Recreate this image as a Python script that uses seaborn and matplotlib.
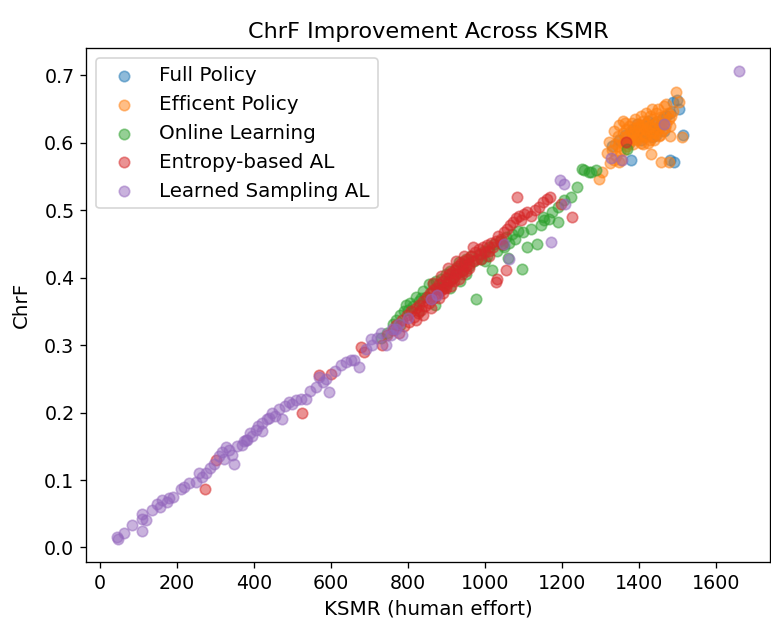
import matplotlib
matplotlib.use("Agg")
import matplotlib.pyplot as plt
import seaborn as sns

# ---- data ----
full_x = [1330, 1350, 1365, 1380, 1390, 1400, 1410, 1420, 1430, 1440,
          1450, 1460, 1470, 1480, 1490, 1500, 1505, 1515, 1492, 1482,
          1375, 1395, 1415, 1435, 1455, 1465, 1445, 1425, 1405, 1385]
full_y = [0.595, 0.605, 0.612, 0.575, 0.615, 0.620, 0.610, 0.625, 0.618, 0.630,
          0.622, 0.635, 0.640, 0.645, 0.660, 0.664, 0.650, 0.612, 0.572, 0.574,
          0.600, 0.628, 0.615, 0.608, 0.625, 0.618, 0.612, 0.632, 0.605, 0.620]

eff_x = [1322, 1330, 1338, 1345, 1350, 1352, 1358, 1360, 1365, 1368,
         1370, 1372, 1375, 1378, 1380, 1382, 1385, 1388, 1390, 1392,
         1395, 1398, 1400, 1402, 1405, 1408, 1410, 1412, 1415, 1418,
         1420, 1422, 1425, 1428, 1430, 1432, 1435, 1438, 1440, 1442,
         1445, 1448, 1450, 1452, 1455, 1458, 1460, 1462, 1465, 1468,
         1470, 1472, 1475, 1478, 1480, 1485, 1490, 1496, 1504, 1512,
         1304, 1296, 1348, 1431, 1457, 1478, 1340, 1355, 1362, 1335,
         1375, 1395, 1410, 1425, 1440, 1455, 1385, 1400, 1415, 1430,
         1445, 1365, 1390, 1420, 1450, 1480, 1345, 1405, 1435, 1465,
         1348, 1360, 1335, 1318, 1326]
eff_y = [0.602, 0.590, 0.598, 0.610, 0.603, 0.588, 0.615, 0.600, 0.608, 0.620,
         0.595, 0.612, 0.625, 0.605, 0.618, 0.630, 0.598, 0.612, 0.622, 0.606,
         0.615, 0.628, 0.610, 0.620, 0.600, 0.625, 0.615, 0.632, 0.608, 0.620,
         0.612, 0.630, 0.618, 0.605, 0.625, 0.615, 0.635, 0.610, 0.622, 0.628,
         0.615, 0.632, 0.620, 0.610, 0.638, 0.625, 0.618, 0.630, 0.640, 0.622,
         0.658, 0.628, 0.645, 0.635, 0.625, 0.640, 0.648, 0.675, 0.661, 0.609,
         0.557, 0.547, 0.572, 0.584, 0.572, 0.572, 0.580, 0.575, 0.590, 0.575,
         0.600, 0.605, 0.598, 0.600, 0.605, 0.612, 0.615, 0.625, 0.628, 0.640,
         0.645, 0.630, 0.635, 0.645, 0.650, 0.610, 0.595, 0.640, 0.650, 0.655,
         0.627, 0.632, 0.618, 0.585, 0.570]

online_x = [730, 745, 760, 770, 780, 790, 795, 800, 805, 812,
            820, 828, 835, 840, 848, 855, 860, 865, 872, 880,
            885, 890, 898, 905, 910, 918, 925, 932, 940, 945,
            952, 960, 965, 972, 977, 985, 990, 998, 1005, 1012,
            1018, 1025, 1032, 1040, 1048, 1055, 1062, 1070, 1078, 1085,
            1096, 1109, 1120, 1135, 1145, 1155, 1166, 1175, 1190, 1205,
            1223, 1239, 1252, 1270, 1257, 1275, 1369, 1288, 935, 1060,
            870, 910, 950, 1000, 1050, 1100, 1150, 830, 780, 1190]
online_y = [0.310, 0.318, 0.332, 0.338, 0.345, 0.350, 0.360, 0.352, 0.362, 0.358,
            0.372, 0.365, 0.370, 0.380, 0.372, 0.391, 0.378, 0.390, 0.395, 0.385,
            0.398, 0.388, 0.405, 0.395, 0.410, 0.400, 0.415, 0.423, 0.410, 0.420,
            0.428, 0.418, 0.432, 0.425, 0.368, 0.435, 0.428, 0.440, 0.432, 0.445,
            0.412, 0.450, 0.440, 0.455, 0.448, 0.460, 0.452, 0.465, 0.458, 0.470,
            0.413, 0.446, 0.472, 0.450, 0.478, 0.485, 0.487, 0.498, 0.505, 0.515,
            0.520, 0.535, 0.562, 0.557, 0.560, 0.557, 0.591, 0.560, 0.395, 0.430,
            0.360, 0.385, 0.405, 0.425, 0.445, 0.468, 0.490, 0.350, 0.330, 0.482]

entropy_x = [273, 301, 525, 569, 600, 678, 686, 732, 745, 760,
             770, 778, 785, 790, 798, 802, 808, 815, 820, 825,
             830, 835, 840, 845, 850, 855, 858, 862, 866, 870,
             874, 878, 882, 886, 890, 894, 898, 902, 906, 910,
             914, 918, 922, 926, 930, 934, 938, 942, 946, 950,
             955, 960, 965, 970, 975, 980, 985, 990, 995, 1000,
             1005, 1010, 1015, 1020, 1028, 1035, 1042, 1050, 1058, 1065,
             1072, 1080, 1088, 1095, 1102, 1110, 1120, 1130, 1140, 1150,
             1161, 1170, 1197, 1226, 1029, 1055, 1031, 1083, 1368, 880,
             900, 920, 940, 960, 860, 840, 820, 990, 1010, 1045,
             865, 885, 905, 925, 945, 968, 892, 912, 932, 952]
entropy_y = [0.086, 0.129, 0.199, 0.256, 0.257, 0.297, 0.290, 0.300, 0.315, 0.322,
             0.330, 0.318, 0.338, 0.328, 0.345, 0.335, 0.350, 0.342, 0.355, 0.348,
             0.360, 0.352, 0.365, 0.358, 0.372, 0.362, 0.378, 0.368, 0.382, 0.372,
             0.385, 0.378, 0.390, 0.382, 0.395, 0.385, 0.400, 0.390, 0.405, 0.395,
             0.408, 0.400, 0.412, 0.405, 0.418, 0.408, 0.422, 0.412, 0.425, 0.418,
             0.428, 0.420, 0.432, 0.425, 0.438, 0.428, 0.442, 0.435, 0.445, 0.438,
             0.448, 0.440, 0.452, 0.445, 0.455, 0.462, 0.458, 0.468, 0.472, 0.478,
             0.482, 0.488, 0.492, 0.485, 0.495, 0.498, 0.492, 0.500, 0.505, 0.512,
             0.517, 0.520, 0.510, 0.490, 0.394, 0.412, 0.398, 0.520, 0.602, 0.370,
             0.385, 0.395, 0.405, 0.415, 0.355, 0.345, 0.338, 0.428, 0.432, 0.450,
             0.392, 0.402, 0.415, 0.425, 0.432, 0.445, 0.378, 0.388, 0.398, 0.410]

learned_x = [44, 47, 62, 83, 109, 109, 109, 135, 148, 161,
             174, 179, 210, 218, 249, 257, 275, 296, 317, 322,
             327, 343, 348, 369, 382, 395, 379, 405, 434, 447,
             473, 491, 522, 535, 561, 569, 595, 587, 626, 652,
             660, 673, 704, 706, 743, 756, 769, 758, 777, 784,
             860, 875, 1049, 1062, 1171, 1208, 1205, 1195, 1327, 1356,
             1465, 1660, 120, 155, 190, 230, 265, 285, 310, 335,
             355, 375, 390, 410, 420, 440, 455, 465, 480, 500,
             510, 545, 580, 610, 640, 690, 720, 730, 800, 420]
learned_y = [0.016, 0.013, 0.022, 0.034, 0.024, 0.042, 0.049, 0.055, 0.064, 0.070,
             0.067, 0.074, 0.086, 0.089, 0.097, 0.111, 0.111, 0.123, 0.141, 0.131,
             0.149, 0.137, 0.123, 0.152, 0.160, 0.166, 0.160, 0.174, 0.190, 0.200,
             0.190, 0.215, 0.220, 0.220, 0.238, 0.253, 0.230, 0.250, 0.270, 0.278,
             0.278, 0.267, 0.309, 0.300, 0.300, 0.315, 0.324, 0.324, 0.331, 0.315,
             0.368, 0.374, 0.450, 0.428, 0.453, 0.510, 0.539, 0.545, 0.577, 0.575,
             0.628, 0.706, 0.040, 0.060, 0.075, 0.095, 0.105, 0.118, 0.135, 0.145,
             0.150, 0.158, 0.170, 0.180, 0.185, 0.192, 0.195, 0.205, 0.210, 0.212,
             0.218, 0.232, 0.245, 0.262, 0.275, 0.295, 0.310, 0.318, 0.340, 0.172]

series = [
    ("Full Policy", full_x, full_y),
    ("Efficent Policy", eff_x, eff_y),
    ("Online Learning", online_x, online_y),
    ("Entropy-based AL", entropy_x, entropy_y),
    ("Learned Sampling AL", learned_x, learned_y),
]
colors = sns.color_palette("tab10", 5)

DPI = 119
fig = plt.figure(figsize=(771 / DPI, 620 / DPI), dpi=DPI)
ax = fig.add_axes([0.1115, 0.0935, 0.887, 0.829])

for (label, xs, ys), c in zip(series, colors):
    assert len(xs) == len(ys), label
    sns.scatterplot(x=xs, y=ys, ax=ax, color=c, alpha=0.5, s=40,
                    edgecolor="face", linewidth=1.0, label=label)

ax.set_title("ChrF Improvement Across KSMR", fontsize=13.5)
ax.set_xlabel("KSMR (human effort)", fontsize=12)
ax.set_ylabel("ChrF", fontsize=12, labelpad=8)
ax.tick_params(labelsize=11.5)
ax.legend(loc="upper left", fontsize=12)

fig.savefig("out.png", dpi=DPI)
